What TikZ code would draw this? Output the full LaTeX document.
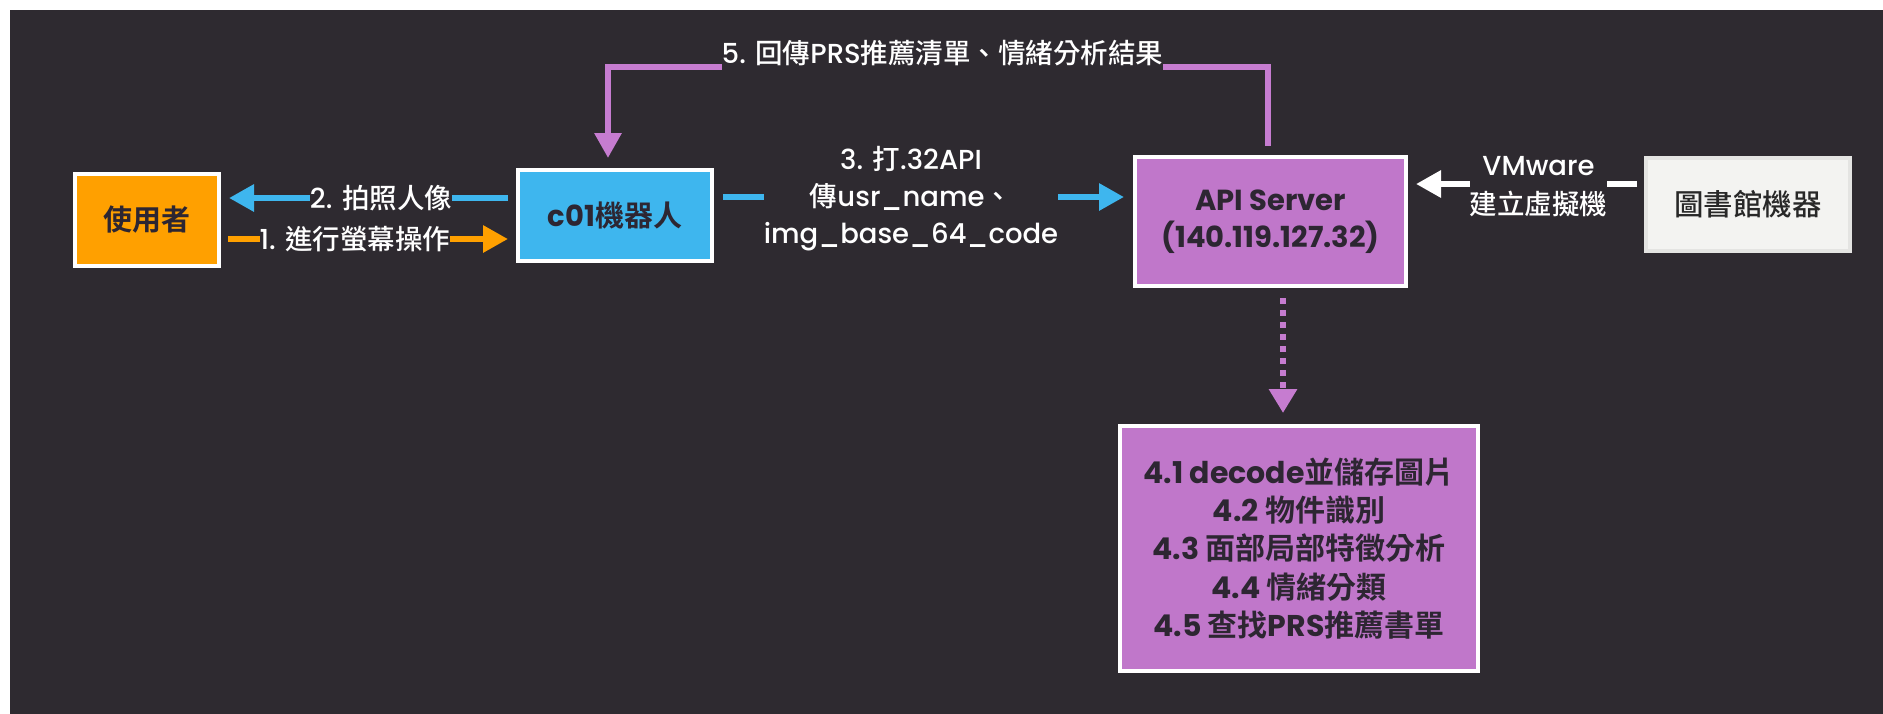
\documentclass[tikz,border=0pt]{standalone}
\usepackage{fontspec}
\setmainfont{Poppins}[UprightFont={* Medium}, BoldFont={* Bold}]
\newfontfamily\cjkf{Noto Sans CJK TC}[UprightFont={* Medium}, BoldFont={* Bold}]
\newcommand\C[1]{{\cjkf #1}}
\usetikzlibrary{arrows.meta}
\definecolor{bg}{RGB}{46,42,48}
\definecolor{cuser}{RGB}{255,160,0}
\definecolor{cblue}{RGB}{62,182,238}
\definecolor{cpurp}{RGB}{192,119,202}
\definecolor{cpurpline}{RGB}{198,124,208}
\definecolor{boxtxt}{RGB}{45,38,50}
\definecolor{clib}{RGB}{243,243,241}
\definecolor{clibd}{RGB}{228,228,226}
\definecolor{clibt}{RGB}{40,40,40}
\begin{document}
\begin{tikzpicture}[x=1pt,y=-1pt,
  box/.style={draw=white, line width=4pt, inner sep=0pt, text=boxtxt,
    font=\fontsize{29}{37}\selectfont\bfseries, align=center},
  lbl/.style={text=white, fill=bg, inner xsep=0pt, inner ysep=4pt,
    font=\fontsize{27.5}{37}\selectfont, align=center},
  conn/.style={line width=6pt, -{Triangle[length=25pt,width=26pt]}},
]
\useasboundingbox (0,0) rectangle (1883,713);
\fill[white] (0,0) rectangle (1883,713);
\fill[bg] (10,10) rectangle (1900,730);

% boxes
\node[box, fill=cuser, minimum width=144pt, minimum height=92pt] (user) at (147,220) {\C{使用者}};
\node[box, fill=cblue, minimum width=194pt, minimum height=91pt] (robot) at (615,215.5) {c01\C{機器人}};
\node[box, fill=cpurp, minimum width=271pt, minimum height=129pt] (api) at (1270.5,221.5) {API Server\\(140.119.127.32)};
\node[box, fill=clib, draw=clibd, text=clibt, font=\fontsize{29.5}{37}\selectfont, minimum width=204pt, minimum height=93pt] (lib) at (1748,204.5) {\C{圖書館機器}};
\node[box, fill=cpurp, minimum width=358pt, minimum height=245pt, font=\fontsize{30}{38.25}\selectfont\bfseries] (steps) at (1299,548.5)
  {4.1 decode\C{並儲存圖片}\\4.2 \C{物件識別}\\4.3 \C{面部局部特徵分析}\\4.4 \C{情緒分類}\\4.5 \C{查找}PRS\C{推薦書單}};

% connectors
\draw[conn, cblue, shorten <=8pt, shorten >=8pt] ([yshift=17.5pt]robot.west) -- ([yshift=17.5pt]robot.west -| user.east);
\draw[conn, cuser, shorten <=7pt, shorten >=8pt] ([yshift=-19pt]user.east) -- ([yshift=-19pt]user.east -| robot.west);
\draw[conn, cblue, shorten <=9pt, shorten >=9pt] ([yshift=18.5pt]robot.east) -- ([yshift=18.5pt]robot.east -| api.west);
\draw[conn, white, shorten <=7pt, shorten >=8pt] ([yshift=20.5pt]lib.west) -- ([yshift=20.5pt]lib.west -| api.east);
\coordinate (top5) at (0,67);
\draw[conn, cpurpline, shorten <=9pt, shorten >=10pt] ([xshift=-2.5pt]api.north) -- ([xshift=-2.5pt]api.north |- top5) -| ([xshift=-7pt]robot.north);
\draw[line width=6pt, cpurpline, dash pattern=on 6pt off 6pt, -{Triangle[length=24pt,width=27pt]}, shorten <=10pt, shorten >=11pt]
  ([xshift=12.5pt]api.south) -- ([xshift=12.5pt]api.south |- steps.north);

% labels
\node[lbl] (l2) at (381,198) {2. \C{拍照人像}};
\node[lbl] (l1) at (355,239) {1. \C{進行螢幕操作}};
\node[lbl] (l3) at (911,198.5) {3. \C{打}.32API\\\C{傳}usr\_name\C{、}\\img\_base\_64\_code};
\node[lbl, font=\fontsize{27.5}{39}\selectfont] (l4) at (1538.5,186.5) {VMware\\\C{建立虛擬機}};
\node[lbl, inner ysep=6pt] (l5) at (942.5,53) {5. \C{回傳}PRS\C{推薦清單、情緒分析結果}};
\end{tikzpicture}
\end{document}
